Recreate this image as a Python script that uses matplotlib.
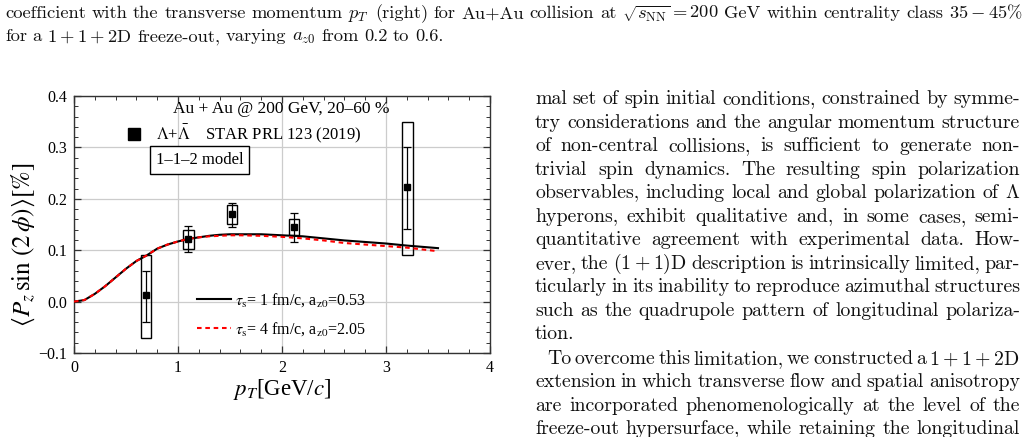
import numpy as np
import matplotlib
matplotlib.use('Agg')
import matplotlib.pyplot as plt
from matplotlib.patches import Rectangle
from matplotlib.lines import Line2D
from matplotlib.ticker import MultipleLocator, FuncFormatter

# model curves, <P_z sin(2 phi)> [%] vs pT
pt_model = [0.0, 0.1, 0.2, 0.3, 0.4, 0.5, 0.6, 0.7, 0.8, 0.9, 1.0, 1.1, 1.2, 1.3, 1.4,
            1.5, 1.6, 1.8, 2.0, 2.2, 2.4, 2.6, 2.8, 3.0, 3.2, 3.5]
pz_tau1 = [0.0, 0.003, 0.015, 0.030, 0.047, 0.064, 0.079, 0.090, 0.103, 0.111, 0.117, 0.122,
           0.125, 0.128, 0.130, 0.131, 0.131, 0.131, 0.129, 0.127, 0.123, 0.119, 0.116,
           0.113, 0.109, 0.104]
pz_tau4 = [0.0, 0.003, 0.015, 0.030, 0.047, 0.064, 0.079, 0.090, 0.103, 0.111, 0.117, 0.122,
           0.125, 0.127, 0.128, 0.129, 0.129, 0.128, 0.126, 0.123, 0.119, 0.114, 0.111,
           0.108, 0.105, 0.098]

# STAR data
pt_star = [0.69, 1.10, 1.52, 2.115, 3.205]
pz_star = [0.012, 0.122, 0.170, 0.146, 0.222]
stat_lo = [0.051, 0.026, 0.025, 0.030, 0.081]
stat_hi = [0.048, 0.026, 0.022, 0.026, 0.078]
sys_lo = [0.082, 0.019, 0.020, 0.016, 0.132]
sys_hi = [0.078, 0.017, 0.017, 0.015, 0.128]

W, H = 1028, 437
fig = plt.figure(figsize=(W/100, H/100), dpi=100)

chart_font = 'Liberation Serif'
ax = fig.add_axes([74/W, 1-353/H, 416/W, 257/H])

ax.plot(pt_model, pz_tau1, color='k', lw=1.5, label=r'$\tau_\mathrm{s}$= 1 fm/c, a$_\mathrm{z0}$=0.53', zorder=4)
ax.plot(pt_model, pz_tau4, color='red', lw=1.5, ls=(0, (2.2, 1.8)), label=r'$\tau_\mathrm{s}$= 4 fm/c, a$_\mathrm{z0}$=2.05', zorder=5)

for x, y, lo, hi in zip(pt_star, pz_star, sys_lo, sys_hi):
    ax.add_patch(Rectangle((x-0.05, y-lo), 0.1, lo+hi, fill=False, ec='k', lw=1.0, zorder=3))
ax.errorbar(pt_star, pz_star, yerr=[stat_lo, stat_hi], fmt='s', color='k', ms=4,
            elinewidth=0.9, capsize=3, capthick=0.9, zorder=6)

ax.set_xlim(0, 4)
ax.set_ylim(-0.1, 0.4)
ax.xaxis.set_major_locator(MultipleLocator(1))
ax.xaxis.set_minor_locator(MultipleLocator(0.2))
ax.yaxis.set_major_locator(MultipleLocator(0.1))
ax.yaxis.set_minor_locator(MultipleLocator(0.02))
ax.yaxis.set_major_formatter(FuncFormatter(lambda v, p: ('%.1f' % v).replace('-', '\u2212')))
ax.xaxis.set_major_formatter(FuncFormatter(lambda v, p: '%d' % v))
ax.tick_params(which='both', direction='in', top=True, right=True, color='#333333')
ax.tick_params(which='major', length=5, width=0.9, labelsize=11.5, pad=5)
ax.tick_params(which='minor', length=3, width=0.7)
for lab in ax.get_xticklabels() + ax.get_yticklabels():
    lab.set_family(chart_font)
ax.grid(True, which='major', color='#cccccc', lw=0.9)
ax.set_axisbelow(True)
for s in ax.spines.values():
    s.set_color('#333333')
    s.set_linewidth(1.0)

ax.set_ylabel(r'$\langle P_z\,\sin\,(2\,\phi)\rangle[\%]$', fontsize=18, family=chart_font, math_fontfamily='stix')
ax.yaxis.set_label_coords(-0.09, 0.42)
ax.set_xlabel(r'$p_T$[GeV/$c$]', fontsize=16.5, family=chart_font, math_fontfamily='stix')
ax.xaxis.set_label_coords(0.5, -0.095)

ax.text(0.4976, 0.949, 'Au + Au @ 200 GeV, 20\u201360 %', transform=ax.transAxes, ha='center', va='center',
        fontsize=12.5, family=chart_font)
ax.text(0.302, 0.751, '1\u20131\u20132 model', transform=ax.transAxes, ha='center', va='center',
        fontsize=12, family=chart_font,
        bbox=dict(boxstyle='square,pad=0.35', fc='white', ec='k', lw=1.0))

star = Line2D([], [], marker='s', ls='none', color='k', markersize=8)
leg1 = ax.legend([star], [r'$\Lambda$+$\bar{\Lambda}$    STAR PRL 123 (2019)'], loc='center left',
                 bbox_to_anchor=(0.125, 0.852), frameon=False, borderpad=0, borderaxespad=0,
                 handlelength=1, handletextpad=0.8, prop={'family': chart_font, 'size': 12})
for t in leg1.get_texts():
    t.set_math_fontfamily('stix')
ax.add_artist(leg1)
leg2 = ax.legend(loc='center left', bbox_to_anchor=(0.296, 0.148), frameon=False, borderpad=0,
                 borderaxespad=0, handlelength=2.1, handletextpad=0.3, labelspacing=0.7,
                 prop={'family': chart_font, 'size': 11.5})
for t in leg2.get_texts():
    t.set_math_fontfamily('stix')

# page text around the figure
renderer = fig.canvas.get_renderer()


def put_line(line, x0, x1, y, justify=True, size=14):
    words = line.split(' ')
    objs = [fig.text(0, 1-y/H, w, fontsize=size, family='cmr10', math_fontfamily='cm',
                     va='baseline', ha='left', color='#111111') for w in words]
    widths = [o.get_window_extent(renderer).width for o in objs]
    if justify and len(words) > 1:
        gap = (x1 - x0 - sum(widths)) / (len(words) - 1)
    else:
        gap = size * 100 / 72 * 0.3
    x = x0
    for o, w in zip(objs, widths):
        o.set_x(x/W)
        x += w + gap


caption = [
    r'coefficient with the transverse momentum $p_T$ (right) for Au+Au collision at $\sqrt{s_\mathrm{NN}}=200$ GeV within centrality class $35-45\%$',
    r'for a $1+1+2$D freeze-out, varying $a_{z0}$ from 0.2 to 0.6.',
]
put_line(caption[0], 5, 1023, 18.2, True, 13.3)
put_line(caption[1], 5, 1023, 41.2, False, 13.3)

column = [
    (r'mal set of spin initial conditions, constrained by symme-', 0, True),
    (r'try considerations and the angular momentum structure', 0, True),
    (r'of non-central collisions, is sufficient to generate non-', 0, True),
    (r'trivial spin dynamics. The resulting spin polarization', 0, True),
    (r'observables, including local and global polarization of $\Lambda$', 0, True),
    (r'hyperons, exhibit qualitative and, in some cases, semi-', 0, True),
    (r'quantitative agreement with experimental data. How-', 0, True),
    (r'ever, the $(1+1)$D description is intrinsically limited, par-', 0, True),
    (r'ticularly in its inability to reproduce azimuthal structures', 0, True),
    (r'such as the quadrupole pattern of longitudinal polariza-', 0, True),
    (r'tion.', 0, False),
    (r'To overcome this limitation, we constructed a $1+1+2$D', 12, True),
    (r'extension in which transverse flow and spatial anisotropy', 0, True),
    (r'are incorporated phenomenologically at the level of the', 0, True),
    (r'freeze-out hypersurface, while retaining the longitudinal', 0, True),
]
baselines = [104.2, 128.2, 151.2, 175.2, 198.2, 222.2, 245.2, 269.2, 292.2, 316.2, 339.2,
             364.2, 387.2, 411.2, 434.2]
for (line, indent, just), yb in zip(column, baselines):
    put_line(line, 535 + indent, 1020, yb, just, 14.3)

fig.savefig('out.png', dpi=100)
